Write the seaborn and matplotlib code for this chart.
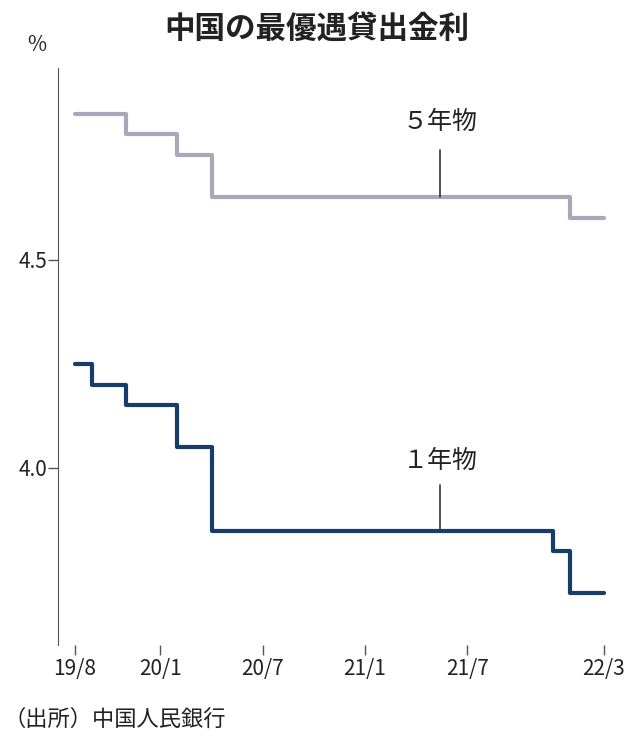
import matplotlib
matplotlib.use("Agg")
import matplotlib.pyplot as plt
import seaborn as sns
import pandas as pd

# months since 2019/8 (0 = 2019/8, 31 = 2022/3)
change_months = [0, 1, 3, 6, 8, 28, 29, 31]
lpr_1y = [4.25, 4.20, 4.15, 4.05, 3.85, 3.80, 3.70, 3.70]
change_months_5y = [0, 3, 6, 8, 29, 31]
lpr_5y = [4.85, 4.80, 4.75, 4.65, 4.60, 4.60]
tick_pos = [0, 5, 11, 17, 23, 31]
tick_labels = ["19/8", "20/1", "20/7", "21/1", "21/7", "22/3"]

sns.set_style("white")
plt.rcParams["font.family"] = ["Noto Sans CJK JP", "DejaVu Sans"]

df1 = pd.DataFrame({"m": change_months, "v": lpr_1y})
df5 = pd.DataFrame({"m": change_months_5y, "v": lpr_5y})

fig = plt.figure(figsize=(6.34, 7.45), dpi=100)
ax = fig.add_axes([0.0915, 0.134, 0.888, 0.775])
sns.lineplot(data=df5, x="m", y="v", ax=ax, color="#a7a9ba", lw=3, drawstyle="steps-post")
sns.lineplot(data=df1, x="m", y="v", ax=ax, color="#163c6a", lw=3, drawstyle="steps-post")

ax.set_xlim(-1, 32)
ax.set_ylim(3.575, 4.96)
ax.set_xticks(tick_pos, tick_labels, fontsize=15)
ax.set_yticks([4.0, 4.5], ["4.0", "4.5"], fontsize=15)
ax.set_xlabel("")
ax.set_ylabel("")
for s in ["top", "right", "bottom"]:
    ax.spines[s].set_visible(False)
ax.spines["left"].set_color("#555555")
ax.tick_params(axis="both", bottom=True, left=True, length=7, width=1,
               color="#555555", labelcolor="#222222", direction="out")
ax.tick_params(axis="x", pad=2)
ax.tick_params(axis="y", pad=1)

# leader lines and labels
ax.plot([21.4, 21.4], [4.65, 4.764], color="#333333", lw=1.2)
ax.text(21.4, 4.80, "５年物", ha="center", va="bottom", fontsize=18, color="#222222")
ax.plot([21.4, 21.4], [3.85, 3.96], color="#333333", lw=1.2)
ax.text(21.4, 3.985, "１年物", ha="center", va="bottom", fontsize=18, color="#222222")

fig.text(0.5, 0.962, "中国の最優遇貸出金利", ha="center", va="center", fontsize=22, fontweight="bold", color="#222222")
fig.text(0.058, 0.94, "%", ha="center", va="center", fontsize=15, color="#222222")
fig.text(0.005, 0.035, "（出所）中国人民銀行", ha="left", va="center", fontsize=16, color="#222222")

fig.savefig("out.png", dpi=100)
